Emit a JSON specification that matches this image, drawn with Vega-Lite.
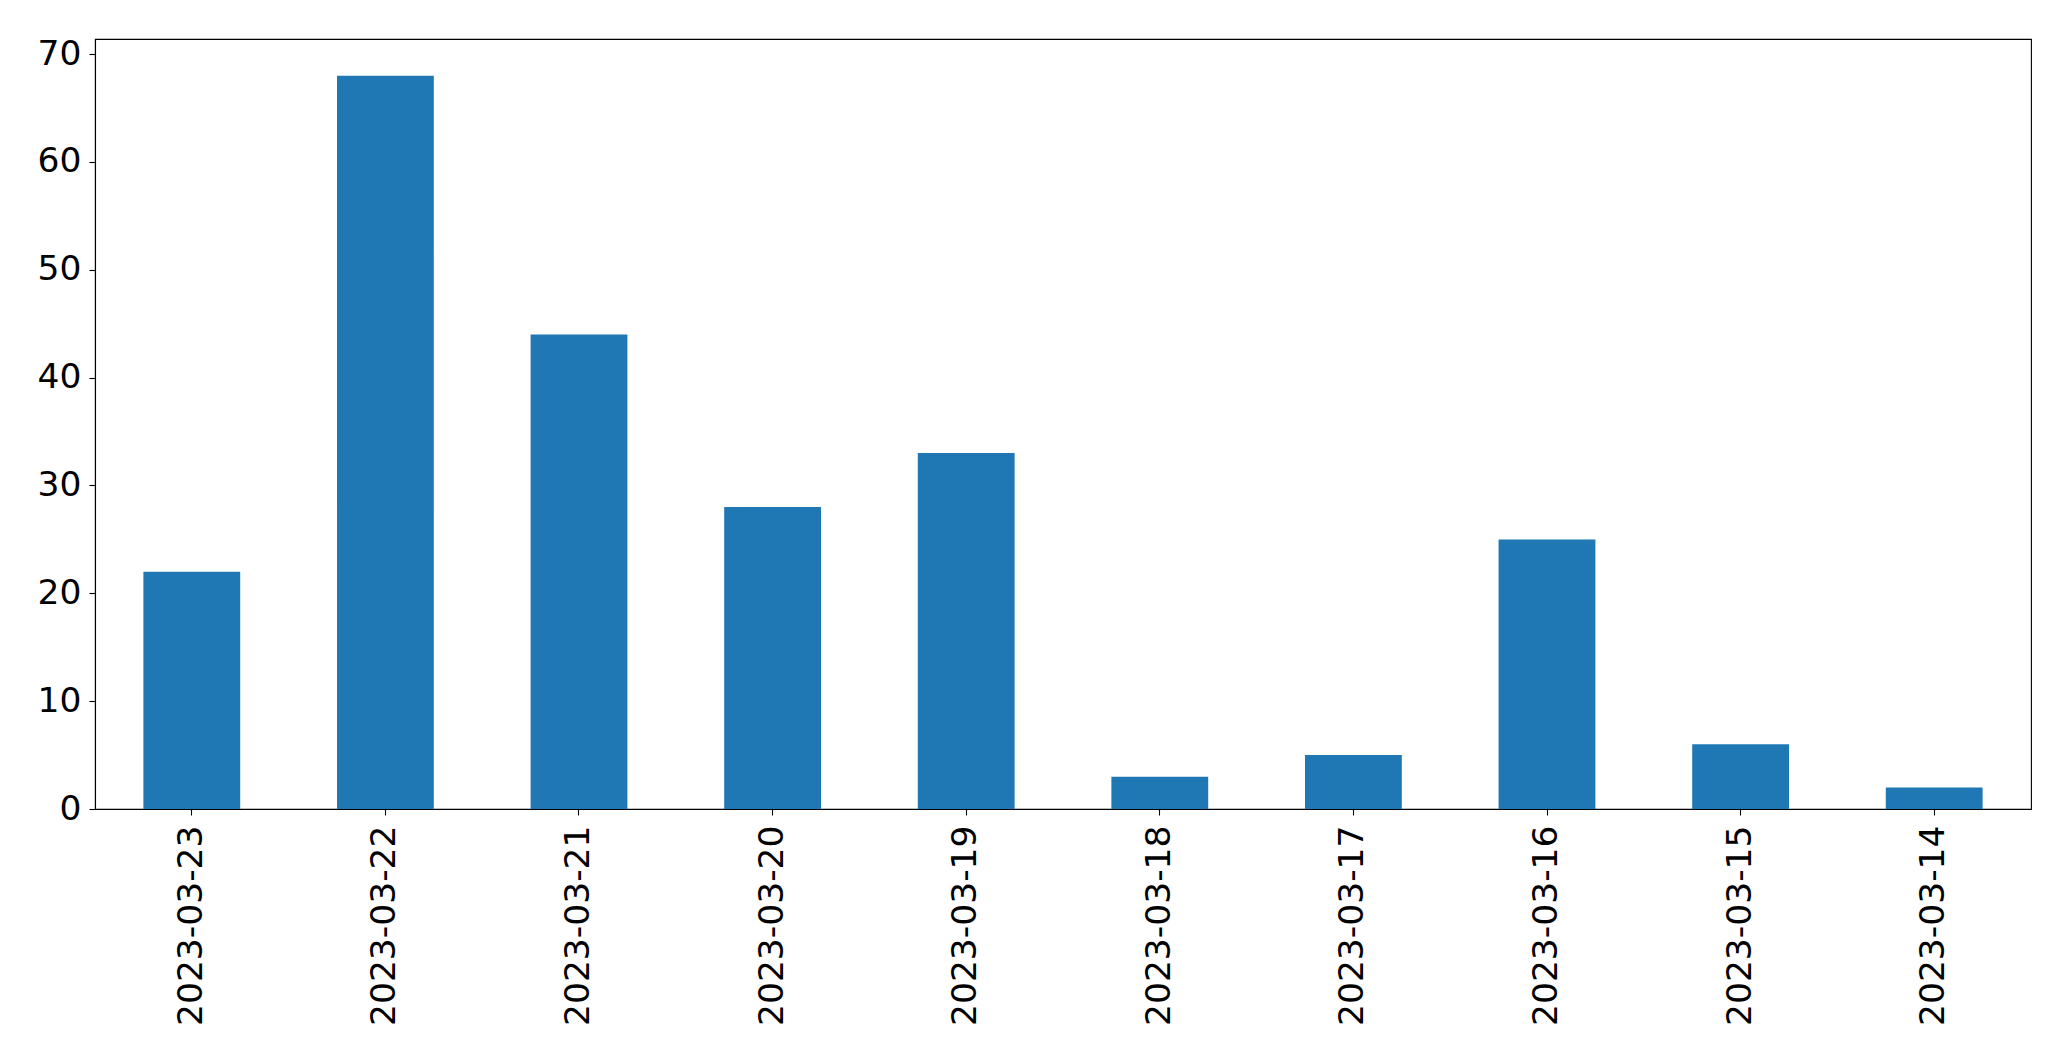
{
  "$schema": "https://vega.github.io/schema/vega-lite/v6.json",
  "autosize": {"type": "none"},
  "width": 1936,
  "height": 770,
  "padding": {"left": 95, "top": 39, "right": 40, "bottom": 252},
  "background": "white",
  "config": {
    "view": {"stroke": "black", "strokeWidth": 1.1},
    "font": "DejaVu Sans"
  },
  "data": {
    "values": [
      {"date": "2023-03-23", "count": 22},
      {"date": "2023-03-22", "count": 68},
      {"date": "2023-03-21", "count": 44},
      {"date": "2023-03-20", "count": 28},
      {"date": "2023-03-19", "count": 33},
      {"date": "2023-03-18", "count": 3},
      {"date": "2023-03-17", "count": 5},
      {"date": "2023-03-16", "count": 25},
      {"date": "2023-03-15", "count": 6},
      {"date": "2023-03-14", "count": 2}
    ]
  },
  "mark": {"type": "bar", "color": "#1f77b4"},
  "encoding": {
    "x": {
      "field": "date",
      "type": "nominal",
      "sort": null,
      "scale": {"paddingInner": 0.5, "paddingOuter": 0.25},
      "axis": {
        "title": null,
        "labelAngle": -90,
        "labelAlign": "right",
        "labelBaseline": "middle",
        "labelFontSize": 34.5,
        "labelFont": "DejaVu Sans",
        "labelColor": "black",
        "labelLimit": 0,
        "labelPadding": 10,
        "tickSize": 6,
        "tickColor": "black",
        "tickWidth": 1.1,
        "domainColor": "black",
        "domainWidth": 1.1,
        "grid": false
      }
    },
    "y": {
      "field": "count",
      "type": "quantitative",
      "scale": {"domain": [0, 71.4], "nice": false, "zero": true},
      "axis": {
        "title": null,
        "values": [0, 10, 20, 30, 40, 50, 60, 70],
        "labelFontSize": 34.5,
        "labelFont": "DejaVu Sans",
        "labelColor": "black",
        "labelPadding": 8,
        "tickSize": 6,
        "tickColor": "black",
        "tickWidth": 1.1,
        "domainColor": "black",
        "domainWidth": 1.1,
        "grid": false
      }
    }
  }
}
